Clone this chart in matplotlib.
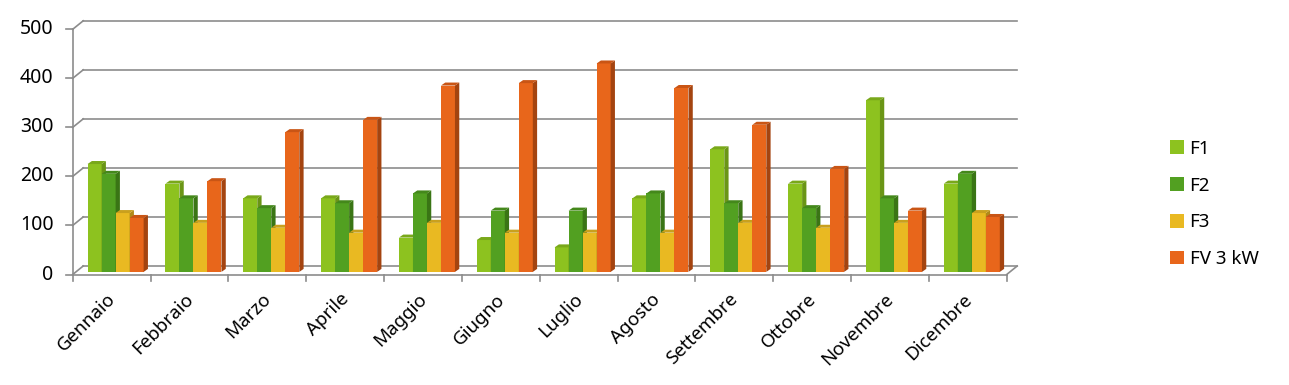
import matplotlib
matplotlib.use("Agg")
import matplotlib.pyplot as plt
from matplotlib.patches import Polygon, Patch

months = ["Gennaio", "Febbraio", "Marzo", "Aprile", "Maggio", "Giugno",
          "Luglio", "Agosto", "Settembre", "Ottobre", "Novembre", "Dicembre"]
series_names = ["F1", "F2", "F3", "FV 3 kW"]
f1 = [220, 180, 150, 150, 70, 65, 50, 150, 250, 180, 350, 180]
f2 = [200, 150, 130, 140, 160, 125, 125, 160, 140, 130, 150, 200]
f3 = [120, 100, 90, 80, 100, 80, 80, 80, 100, 90, 100, 120]
fv = [110, 185, 285, 310, 380, 385, 425, 375, 300, 210, 125, 112]
y_ticks = [0, 100, 200, 300, 400, 500]

front_cols = ["#8dc21f", "#52a021", "#e9b922", "#e8661b"]
top_cols = ["#79a81a", "#44881b", "#c9a01d", "#c95515"]
side_cols = ["#6a9516", "#3a7515", "#b08a18", "#a44410"]

W, H = 1289, 385
fig = plt.figure(figsize=(W / 100, H / 100), dpi=100)
x0, x1 = 72.7, 1006.7
y0, y1 = 274.5, 29.3
ax = fig.add_axes([x0 / W, (H - y0) / H, (x1 - x0) / W, (y0 - y1) / H])
ax.set_xlim(0, 12)
ax.set_ylim(0, 500)
ax.axis("off")

pxx = (x1 - x0) / 12.0      # pixels per category unit
pxy = (y0 - y1) / 500.0     # pixels per value unit

def ux(p):
    return p / pxx

def uy(p):
    return p / pxy

DX, DY = ux(10.5), uy(8.5)      # wall depth
BX, BY = ux(4.0), uy(2.6)       # bar base shift
dX, dY = ux(4.3), uy(3.0)       # bar depth

grid_c = "#8c8c8c"
lw = 1.2
# back wall gridlines and left wall diagonals
for v in y_ticks:
    ax.plot([DX, 12 + DX], [v + DY, v + DY], color=grid_c, lw=lw, clip_on=False, zorder=1)
    ax.plot([0, DX], [v, v + DY], color=grid_c, lw=lw, clip_on=False, zorder=1)
    ax.plot([-ux(6.5), 0], [v, v], color=grid_c, lw=lw, clip_on=False, zorder=1)
    ax.text(-ux(19), v, str(v), ha="right", va="center", fontsize=14,
            family="Noto Sans", color="#000000")
# floor
ax.plot([0, 12], [0, 0], color=grid_c, lw=lw, clip_on=False, zorder=1)
ax.plot([12, 12 + DX], [0, DY], color=grid_c, lw=lw, clip_on=False, zorder=1)
ax.plot([0, 0], [0, 500], color=grid_c, lw=lw, clip_on=False, zorder=1)
for i in range(13):
    ax.plot([i, i], [0, -uy(6.5)], color=grid_c, lw=lw, clip_on=False, zorder=1)

# bars
data = [f1, f2, f3, fv]
bw = 0.18
z = 2
for i in range(12):
    for k in range(4):
        xl = i + 0.5 - 2 * bw + k * bw + BX
        v = data[k][i]
        b = ax.bar([xl], [v], width=bw, bottom=BY, align="edge",
                   color=front_cols[k], linewidth=0, zorder=z, clip_on=False)[0]
        top = BY + v
        ax.add_patch(Polygon([[xl + bw, BY], [xl + bw, top], [xl + bw + dX, top + dY],
                              [xl + bw + dX, BY + dY]], closed=True,
                             facecolor=side_cols[k], linewidth=0, zorder=z, clip_on=False))
        ax.add_patch(Polygon([[xl, top], [xl + bw, top], [xl + bw + dX, top + dY],
                              [xl + dX, top + dY]], closed=True,
                             facecolor=top_cols[k], linewidth=0, zorder=z, clip_on=False))
        z += 1

# x labels
for i, m in enumerate(months):
    ax.text(i + 0.5 + ux(1), -uy(22), m, rotation=45, rotation_mode="anchor",
            ha="right", va="center", fontsize=13.5, family="Noto Sans", color="#000000")

handles = [Patch(facecolor=c, edgecolor="none") for c in front_cols]
fig.legend(handles, series_names, loc="center left",
           bbox_to_anchor=(1153 / W, (H - 204) / H), frameon=False,
           prop={"family": "Noto Sans", "size": 13.5},
           handlelength=0.75, handleheight=0.75, handletextpad=0.3,
           labelspacing=1.0)

fig.savefig("out.png", dpi=100, facecolor="white")
